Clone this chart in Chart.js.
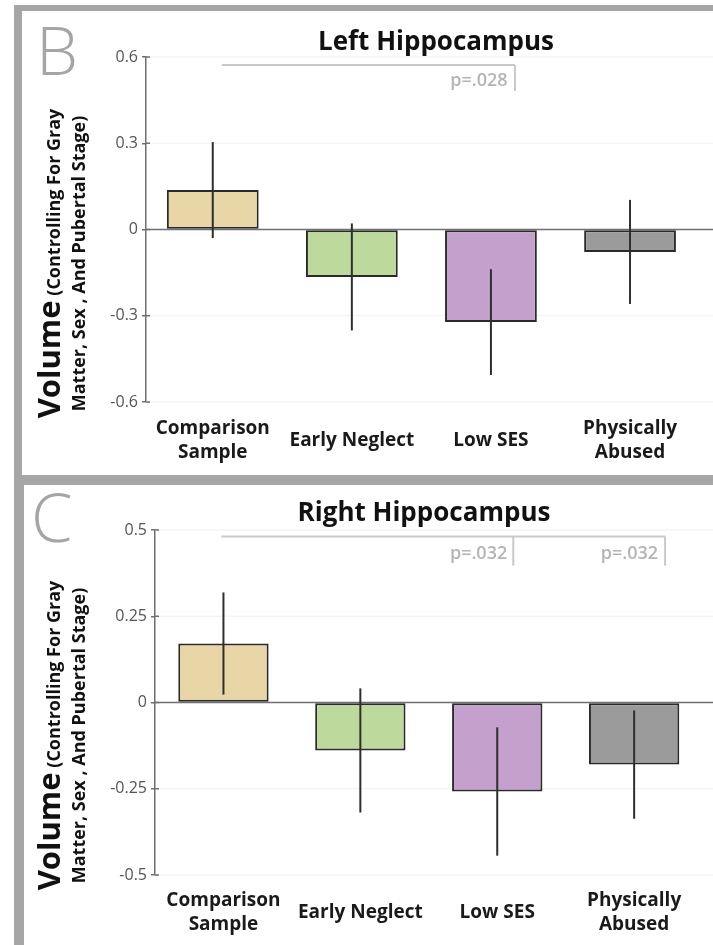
<!DOCTYPE html>
<html><head><meta charset="utf-8">
<script src="https://cdn.jsdelivr.net/npm/chart.js@4"></script>
<style>
html,body{margin:0;padding:0;background:#fff;}
body{width:713px;height:945px;overflow:hidden;position:relative;font-family:'Open Sans',sans-serif;}
.frame{position:absolute;background:#a6a6a6;}
.wrap{position:absolute;}
.letter{position:absolute;font-family:'Open Sans',sans-serif;font-weight:300;color:#a5a5a5;font-size:67px;line-height:67px;}
.ytitle{position:absolute;width:340px;height:57px;transform:rotate(-90deg);transform-origin:50% 50%;text-align:center;font-weight:700;color:#111;white-space:nowrap;font-size:18px;}
.ytitle .l1{height:33px;line-height:30px;}
.ytitle .l2{height:24px;line-height:24px;}
.ytitle .big{font-size:31px;}
</style></head>
<body>
<div class="frame" style="left:14px;top:5px;width:699px;height:6px"></div>
<div class="frame" style="left:14px;top:5px;width:8px;height:470px"></div>
<div class="frame" style="left:14px;top:475px;width:699px;height:10px"></div>
<div class="frame" style="left:14px;top:485px;width:10px;height:460px"></div>

<div class="wrap" style="left:22px;top:11px;width:760px;height:464px"><canvas id="cB"></canvas></div>
<div class="wrap" style="left:24px;top:485px;width:758px;height:460px"><canvas id="cC"></canvas></div>

<div class="letter" style="left:36px;top:16px">B</div>
<div class="letter" style="left:31px;top:483px">C</div>

<div class="ytitle" style="left:-109px;top:235px"><div class="l1"><span class="big">Volume</span> (Controlling For Gray</div><div class="l2">Matter, Sex , And Pubertal Stage)</div></div>
<div class="ytitle" style="left:-109px;top:707px"><div class="l1"><span class="big">Volume</span> (Controlling For Gray</div><div class="l2">Matter, Sex , And Pubertal Stage)</div></div>

<script>
// ---- data ----
const categories = ['Comparison Sample', 'Early Neglect', 'Low SES', 'Physically Abused'];
const categoryTickLabels = [['Comparison', 'Sample'], 'Early Neglect', 'Low SES', ['Physically', 'Abused']];
const barColors = ['#e9d6a6', '#bdd99b', '#c3a1cc', '#9b9b9b'];

const leftMeans = [0.137, -0.165, -0.322, -0.078];
const leftErrors = [0.167, 0.186, 0.184, 0.181];
const leftYTicks = [-0.6, -0.3, 0, 0.3, 0.6];

const rightMeans = [0.171, -0.139, -0.258, -0.180];
const rightErrors = [0.148, 0.180, 0.186, 0.157];
const rightYTicks = [-0.5, -0.25, 0, 0.25, 0.5];

const leftPLabels = ['p=.028'];
const rightPLabels = ['p=.032', 'p=.032'];

// annotation geometry in data units (x: category index, y: value)
const leftBracketLines = [[0.065, 0.572, 2.173, 0.572], [2.173, 0.572, 2.173, 0.482]];
const leftPPositions = [[2.12, 0.517]];
const rightBracketLines = [[-0.015, 0.481, 3.226, 0.481], [2.117, 0.481, 2.117, 0.397], [3.226, 0.481, 3.226, 0.397]];
const rightPPositions = [[2.073, 0.432], [3.175, 0.432]];

Chart.defaults.font.family = "'Open Sans', sans-serif";

const panelPlugin = {
  id: 'panelPlugin',
  beforeDatasetsDraw(chart, args, opts) {
    const {ctx, chartArea, scales: {y}} = chart;
    ctx.save();
    y.ticks.forEach(t => {
      const py = y.getPixelForValue(t.value);
      ctx.beginPath();
      if (t.value === 0) { ctx.strokeStyle = '#6f6f6f'; ctx.lineWidth = 1.5; }
      else { ctx.strokeStyle = '#efefef'; ctx.lineWidth = 1; }
      ctx.moveTo(chartArea.left, py); ctx.lineTo(chart.width, py); ctx.stroke();
      ctx.beginPath(); ctx.strokeStyle = '#6f6f6f'; ctx.lineWidth = 1.5;
      ctx.moveTo(chartArea.left, py); ctx.lineTo(chartArea.left + 4, py); ctx.stroke();
    });
    ctx.restore();
  },
  afterDatasetsDraw(chart, args, opts) {
    const {ctx, scales: {x, y}} = chart;
    ctx.save();
    ctx.strokeStyle = '#2e2e2e'; ctx.lineWidth = 2;
    opts.means.forEach((m, i) => {
      const px = x.getPixelForValue(i);
      ctx.beginPath();
      ctx.moveTo(px, y.getPixelForValue(m + opts.errors[i]));
      ctx.lineTo(px, y.getPixelForValue(m - opts.errors[i]));
      ctx.stroke();
    });
    ctx.strokeStyle = '#c9c9c9'; ctx.lineWidth = 2;
    opts.brackets.forEach(b => {
      ctx.beginPath();
      ctx.moveTo(x.getPixelForValue(b[0]), y.getPixelForValue(b[1]));
      ctx.lineTo(x.getPixelForValue(b[2]), y.getPixelForValue(b[3]));
      ctx.stroke();
    });
    ctx.fillStyle = '#b4b4b4'; ctx.font = "600 18px 'Open Sans', sans-serif";
    ctx.textAlign = 'right'; ctx.textBaseline = 'middle';
    opts.pPositions.forEach((p, i) => {
      ctx.fillText(opts.pLabels[i], x.getPixelForValue(p[0]), y.getPixelForValue(p[1]));
    });
    ctx.restore();
  }
};

function makeChart(id, cfg) {
  return new Chart(document.getElementById(id), {
    type: 'bar',
    data: {
      datasets: [{
        data: cfg.means.map((v, i) => ({x: i, y: v})),
        backgroundColor: barColors,
        borderColor: '#2a2a2a',
        borderWidth: 2,
        borderSkipped: false,
        barPercentage: 0.66,
        categoryPercentage: 1
      }]
    },
    options: {
      responsive: true, maintainAspectRatio: false, animation: false,
      devicePixelRatio: 1,
      layout: {padding: {left: 0, right: cfg.padRight, top: 0, bottom: 0}},
      plugins: {
        legend: {display: false}, tooltip: {enabled: false},
        title: {display: true, text: cfg.title, fullSize: false, color: '#111',
          font: {size: 26, weight: 'bold', lineHeight: 1.0},
          padding: {top: cfg.titleTop, bottom: cfg.titleBottom}},
        panelPlugin: {means: cfg.means, errors: cfg.errors, brackets: cfg.brackets, pPositions: cfg.pPos, pLabels: cfg.pLabels}
      },
      scales: {
        x: {
          type: 'linear', offset: false, min: cfg.xMin, max: cfg.xMax,
          grid: {display: false, offset: false}, border: {display: false},
          afterBuildTicks: ax => { ax.ticks = categories.map((c, i) => ({value: i})); },
          afterFit: ax => { ax.height = cfg.xHeight; },
          ticks: {autoSkip: false, maxRotation: 0, minRotation: 0, crossAlign: 'center', padding: cfg.xPad,
            color: '#1a1a1a', font: {size: 19, weight: 'bold', lineHeight: 1.26},
            callback: (v, i) => categoryTickLabels[i]}
        },
        y: {
          min: cfg.yTicks[0], max: cfg.yTicks[cfg.yTicks.length - 1],
          afterBuildTicks: ax => { ax.ticks = cfg.yTicks.map(v => ({value: v})); },
          afterFit: ax => { ax.width = cfg.yWidth; },
          grid: {display: true, drawOnChartArea: false, drawTicks: true, tickLength: 4, color: '#6f6f6f', lineWidth: 1.5},
          border: {display: true, color: '#6f6f6f', width: 1.5},
          ticks: {padding: 4, color: '#555', font: {size: 16}, callback: v => String(v)}
        }
      }
    },
    plugins: [panelPlugin]
  });
}

makeChart('cB', {
  title: 'Left Hippocampus', means: leftMeans, errors: leftErrors, yTicks: leftYTicks,
  brackets: leftBracketLines, pPos: leftPPositions, pLabels: leftPLabels,
  xMin: -0.48, xMax: 3.69, yWidth: 124, xHeight: 73, xPad: 19, padRight: 56, titleTop: 19, titleBottom: 1
});
makeChart('cC', {
  title: 'Right Hippocampus', means: rightMeans, errors: rightErrors, yTicks: rightYTicks,
  brackets: rightBracketLines, pPos: rightPPositions, pLabels: rightPLabels,
  xMin: -0.5, xMax: 3.43, yWidth: 131, xHeight: 70, xPad: 18, padRight: 89, titleTop: 16, titleBottom: 3
});
</script>
</body></html>
